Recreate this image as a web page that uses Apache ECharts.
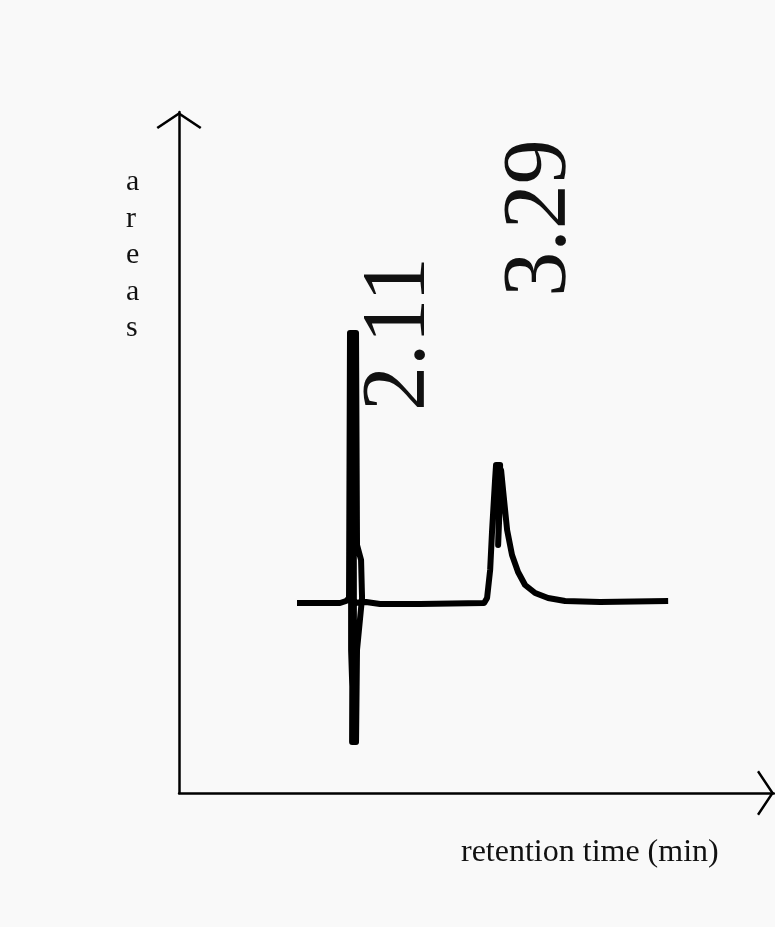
<!DOCTYPE html>
<html>
<head>
<meta charset="utf-8">
<script src="https://cdn.jsdelivr.net/npm/echarts@6/dist/echarts.min.js"></script>
<style>
    html, body { margin: 0; padding: 0; background: #f9f9f9; }
    #chromatogram { width: 775px; height: 927px; }
</style>
</head>
<body>
<div id="chromatogram"></div>
<script>
// detector trace (time in min, signal in arbitrary units)
// the pen goes back and forth over the peaks, so times are not monotonic
const retentionTimes = [
    1.650, 2.000, 2.049, 2.073, 2.081, 2.130, 2.138, 2.171, 2.179, 2.138,
    2.130, 2.098, 2.110, 2.114, 2.090, 2.090, 2.212, 2.325, 2.651, 3.172,
    3.196, 3.221, 3.237, 3.261, 3.269, 3.302, 3.286, 3.310, 3.326, 3.359,
    3.399, 3.448, 3.505, 3.587, 3.692, 3.831, 4.116, 4.669,
];
const signal = [
    190, 190, 192, 195, 460, 460, 248, 233, 195, 143,
    51, 51, 460, 51, 143, 190, 191, 189, 189, 190,
    195, 223, 263, 313, 328, 328, 248, 323, 303, 263,
    238, 221, 208, 200, 195, 192, 191, 192,
];

// peak annotations
const peakTimes = [2.11, 3.29];
const peakHeights = [460, 328];
const peakLabels = ['2.11', '3.29'];

const chartDom = document.getElementById('chromatogram');
const myChart = echarts.init(chartDom, null, { renderer: 'canvas' });

// open chevron arrow head, pointing up
const arrowPath = 'path://M22.5 0 L45 15 L43.5 17 L22.5 3 L1.5 17 L0 15 Z';

const traceData = retentionTimes.map((t, i) => [t, signal[i]]);

const axisLineStyle = {
    show: true,
    symbol: ['none', arrowPath],
    symbolSize: [45, 17],
    symbolOffset: [0, -8.5],
    lineStyle: { color: '#000', width: 2.5 },
};

const option = {
    backgroundColor: '#f9f9f9',
    animation: false,
    grid: {
        left: 179,
        right: 1,
        top: 112,
        bottom: 134,
        containLabel: false,
    },
    xAxis: {
        type: 'value',
        min: 0.69,
        max: 5.53,
        axisLine: axisLineStyle,
        axisTick: { show: false },
        axisLabel: { show: false },
        splitLine: { show: false },
    },
    yAxis: {
        type: 'value',
        min: 0,
        max: 681,
        axisLine: axisLineStyle,
        axisTick: { show: false },
        axisLabel: { show: false },
        splitLine: { show: false },
    },
    graphic: [
        {
            type: 'text',
            left: 126,
            top: 164,
            style: {
                text: 'a\nr\ne\na\ns',
                fontFamily: 'Liberation Serif',
                fontSize: 30,
                lineHeight: 36.5,
                fill: '#111',
                align: 'center',
            },
        },
        {
            type: 'text',
            left: 461,
            top: 837,
            style: {
                text: 'retention time (min)',
                fontFamily: 'Liberation Serif',
                fontSize: 32,
                fill: '#111',
            },
        },
    ],
    series: [
        {
            type: 'line',
            data: traceData,
            showSymbol: false,
            smooth: false,
            lineStyle: { color: '#000', width: 6, join: 'round' },
            markPoint: {
                symbol: 'circle',
                symbolSize: 0,
                data: peakTimes.map((t, i) => ({
                    name: peakLabels[i],
                    coord: [t, peakHeights[i]],
                })),
                label: {
                    show: true,
                    position: 'inside',
                    formatter: '{b}',
                    rotate: 90,
                    fontFamily: 'Liberation Sans Narrow',
                    fontSize: 90,
                    color: '#111',
                },
            },
        },
    ],
};

// offsets are in the rotated frame: [up, right] on screen
option.series[0].markPoint.data[0].label = { offset: [-1, 47] };
option.series[0].markPoint.data[1].label = { offset: [247, 43] };

myChart.setOption(option);
</script>
</body>
</html>
